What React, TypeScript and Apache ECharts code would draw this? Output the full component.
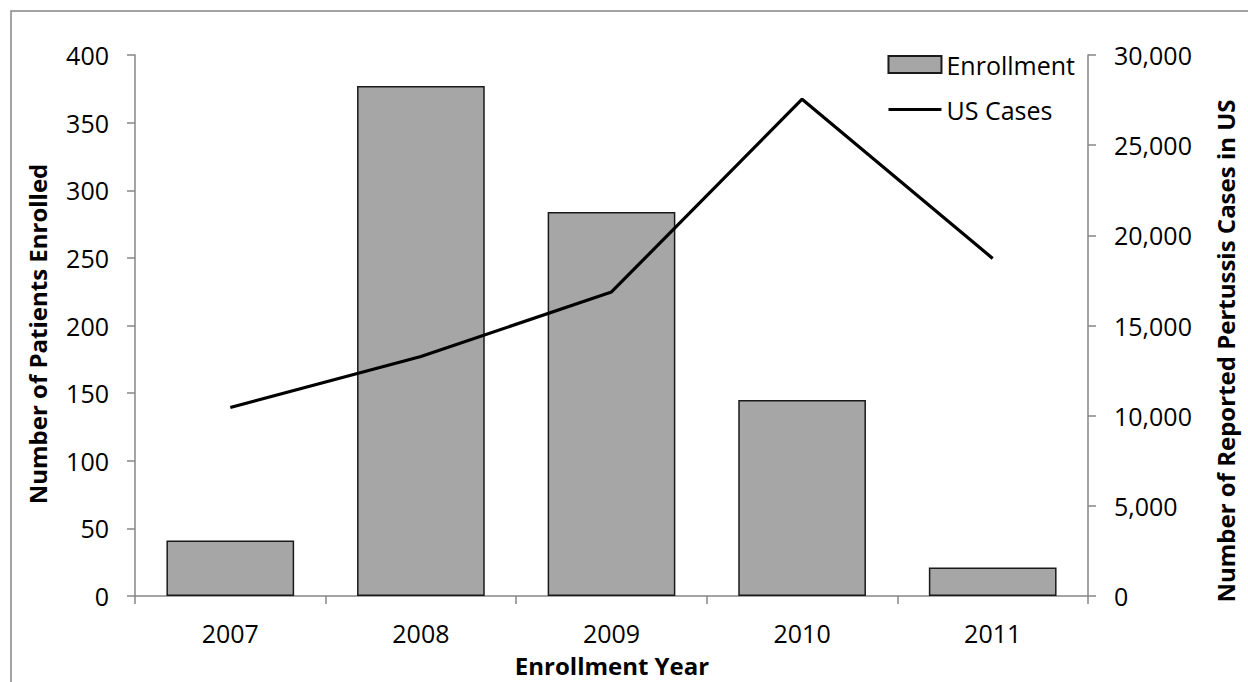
import React, { useEffect, useRef } from "react";
import * as echarts from "echarts";

const years = ["2007", "2008", "2009", "2010", "2011"];
const enrollment = [41, 377, 284, 145, 21];
const usCases = [10454, 13278, 16858, 27550, 18719];

const FONT = "Open Sans";

export default function App() {
  const ref = useRef<HTMLDivElement>(null);
  useEffect(() => {
    if (!ref.current) return;
    const chart = echarts.init(ref.current, undefined, { renderer: "svg" });
    chart.setOption({
      animation: false,
      backgroundColor: "#ffffff",
      textStyle: { fontFamily: FONT },
      grid: { left: 135, right: 160, top: 55, bottom: 86, containLabel: false },
      legend: {
        orient: "vertical",
        right: 168,
        top: 47,
        itemWidth: 53,
        itemHeight: 17,
        itemGap: 20,
        textStyle: { fontFamily: FONT, fontSize: 25, color: "#000" },
        data: [
          { name: "Enrollment", icon: "rect" },
          { name: "US Cases", icon: "path://M0 0 H53 V3.2 H0 Z" },
        ],
      },
      xAxis: {
        type: "category",
        data: years,
        boundaryGap: true,
        axisLine: { lineStyle: { color: "#868686", width: 1.5 } },
        axisTick: { show: true, length: 8, lineStyle: { color: "#868686", width: 1.5 } },
        axisLabel: { color: "#000", fontSize: 25, margin: 24, fontFamily: FONT },
        splitLine: { show: false },
      },
      yAxis: [
        {
          type: "value",
          min: 0,
          max: 400,
          interval: 50,
          position: "left",
          axisLine: { show: true, lineStyle: { color: "#868686", width: 1.5 } },
          axisTick: { show: true, length: 8, lineStyle: { color: "#868686", width: 1.5 } },
          axisLabel: { color: "#000", fontSize: 25, margin: 26, fontFamily: FONT },
          splitLine: { show: false },
        },
        {
          type: "value",
          min: 0,
          max: 30000,
          interval: 5000,
          position: "right",
          axisLine: { show: true, lineStyle: { color: "#868686", width: 1.5 } },
          axisTick: { show: true, length: 8, lineStyle: { color: "#868686", width: 1.5 } },
          axisLabel: {
            color: "#000",
            fontSize: 25,
            margin: 26,
            fontFamily: FONT,
            formatter: (v: number) => v.toLocaleString("en-US"),
          },
          splitLine: { show: false },
        },
      ],
      series: [
        {
          name: "Enrollment",
          type: "bar",
          yAxisIndex: 0,
          data: enrollment,
          barCategoryGap: "33%",
          itemStyle: { color: "#a6a6a6", borderColor: "#1a1a1a", borderWidth: 1.5 },
        },
        {
          name: "US Cases",
          type: "line",
          yAxisIndex: 1,
          data: usCases,
          symbol: "none",
          showSymbol: false,
          lineStyle: { color: "#000", width: 3.2 },
          itemStyle: { color: "#000" },
        },
      ],
      graphic: [
        {
          type: "rect",
          shape: { x: 11, y: 11, width: 1400, height: 800 },
          style: { fill: "none", stroke: "#868686", lineWidth: 1.5 },
          silent: true,
        },
        {
          type: "text",
          x: 37,
          y: 334,
          rotation: Math.PI / 2,
          style: {
            text: "Number of Patients Enrolled",
            fontFamily: FONT,
            fontWeight: "bold",
            fontSize: 24,
            fill: "#000",
            textAlign: "center",
            textVerticalAlign: "middle",
          },
        },
        {
          type: "text",
          x: 1225,
          y: 351,
          rotation: Math.PI / 2,
          style: {
            text: "Number of Reported Pertussis Cases in US",
            fontFamily: FONT,
            fontWeight: "bold",
            fontSize: 24,
            fill: "#000",
            textAlign: "center",
            textVerticalAlign: "middle",
          },
        },
        {
          type: "text",
          x: 612,
          y: 665,
          style: {
            text: "Enrollment Year",
            fontFamily: FONT,
            fontWeight: "bold",
            fontSize: 24,
            fill: "#000",
            textAlign: "center",
            textVerticalAlign: "middle",
          },
        },
      ],
    });
    return () => chart.dispose();
  }, []);
  return (
    <div
      ref={ref}
      style={{ position: "absolute", left: 0, top: 0, width: 1248, height: 682 }}
    />
  );
}
